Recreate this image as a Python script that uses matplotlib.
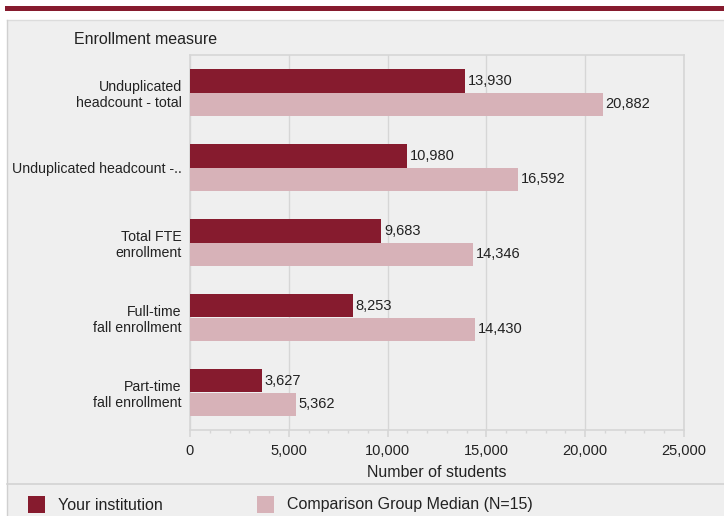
import matplotlib
matplotlib.use("Agg")
import matplotlib.pyplot as plt
from matplotlib.patches import Rectangle
from matplotlib.lines import Line2D
from matplotlib.ticker import MultipleLocator, FuncFormatter
import numpy as np

plt.rcParams['font.family'] = ['Liberation Sans', 'DejaVu Sans']

categories = ["Unduplicated\nheadcount - total", "Unduplicated headcount -..",
              "Total FTE\nenrollment", "Full-time\nfall enrollment",
              "Part-time\nfall enrollment"]
institution = [13930, 10980, 9683, 8253, 3627]
comparison = [20882, 16592, 14346, 14430, 5362]
series_names = ["Your institution", "Comparison Group Median (N=15)"]
x_ticks = [0, 5000, 10000, 15000, 20000, 25000]

dark = "#861b2e"
light = "#d7b2b8"
panel = "#efefef"
grid = "#d6d6d6"
txt = "#222222"

W, H = 724, 516
fig = plt.figure(figsize=(W / 100, H / 100), dpi=100)
fig.patch.set_facecolor("white")

def fx(px):
    return px / W
def fy(py):
    return 1 - py / H

# panel background
fig.patches.append(Rectangle((fx(7), 0), 1 - fx(7), fy(20), transform=fig.transFigure,
                             facecolor=panel, edgecolor="none", zorder=-10))
fig.lines.append(Line2D([fx(7), 1], [fy(20), fy(20)], transform=fig.transFigure, color="#dcdcdc", lw=1, zorder=-5))
fig.lines.append(Line2D([fx(7), fx(7)], [0, fy(20)], transform=fig.transFigure, color="#d0d0d0", lw=1, zorder=-5))
# top red rule
fig.patches.append(Rectangle((fx(5), fy(11)), 1 - fx(5), fy(6) - fy(11), transform=fig.transFigure,
                             facecolor=dark, edgecolor="none", zorder=-5))
# separator above legend
fig.lines.append(Line2D([fx(7), 1], [fy(484), fy(484)], transform=fig.transFigure, color="#d3d3d3", lw=1.2, zorder=-5))

ax = fig.add_axes([fx(190), fy(430), fx(684) - fx(190), fy(55) - fy(430)])
ax.set_facecolor(panel)

n = len(categories)
y = np.arange(n)
h = 0.307
ax.barh(y - h / 2, institution, height=h, color=dark, zorder=3)
ax.barh(y + h / 2, comparison, height=h, color=light, zorder=3)

for i in range(n):
    ax.annotate(f"{institution[i]:,}", (institution[i], y[i] - h / 2), xytext=(2, 0),
                textcoords="offset points", va="center", ha="left", fontsize=10.5, color=txt)
    ax.annotate(f"{comparison[i]:,}", (comparison[i], y[i] + h / 2), xytext=(2, 0),
                textcoords="offset points", va="center", ha="left", fontsize=10.5, color=txt)

ax.set_ylim(n - 0.5, -0.5)
ax.set_xlim(0, 25000)
ax.set_yticks(y)
ax.set_yticklabels(categories, fontsize=10.2, color=txt, ha="right", multialignment="right")
ax.tick_params(axis="y", length=0, pad=6)
ax.set_xticks(x_ticks)
ax.xaxis.set_major_formatter(FuncFormatter(lambda v, p: f"{int(v):,}"))
ax.xaxis.set_minor_locator(MultipleLocator(1000))
ax.tick_params(axis="x", which="major", length=5, color=grid, width=1.2, labelsize=10.5,
               labelcolor=txt, pad=5)
ax.tick_params(axis="x", which="minor", length=2.5, color=grid, width=1)
ax.grid(axis="x", color=grid, lw=1, zorder=0)
for s in ax.spines.values():
    s.set_color(grid)
    s.set_linewidth(1.2)
ax.set_xlabel("Number of students", fontsize=11.5, color=txt, labelpad=5)

fig.text(fx(74), fy(40), "Enrollment measure", fontsize=11.5, color=txt, va="center", ha="left")

# legend
leg_y = 505
for (sx, tx, col, name) in [(28, 58, dark, series_names[0]), (257, 287, light, series_names[1])]:
    fig.patches.append(Rectangle((fx(sx), fy(513)), fx(17), fy(496) - fy(513),
                                 transform=fig.transFigure, facecolor=col, edgecolor="none"))
    fig.text(fx(tx), fy(leg_y), name, fontsize=11.5, color=txt, va="center", ha="left")

fig.savefig("out.png", dpi=100, facecolor="white")
